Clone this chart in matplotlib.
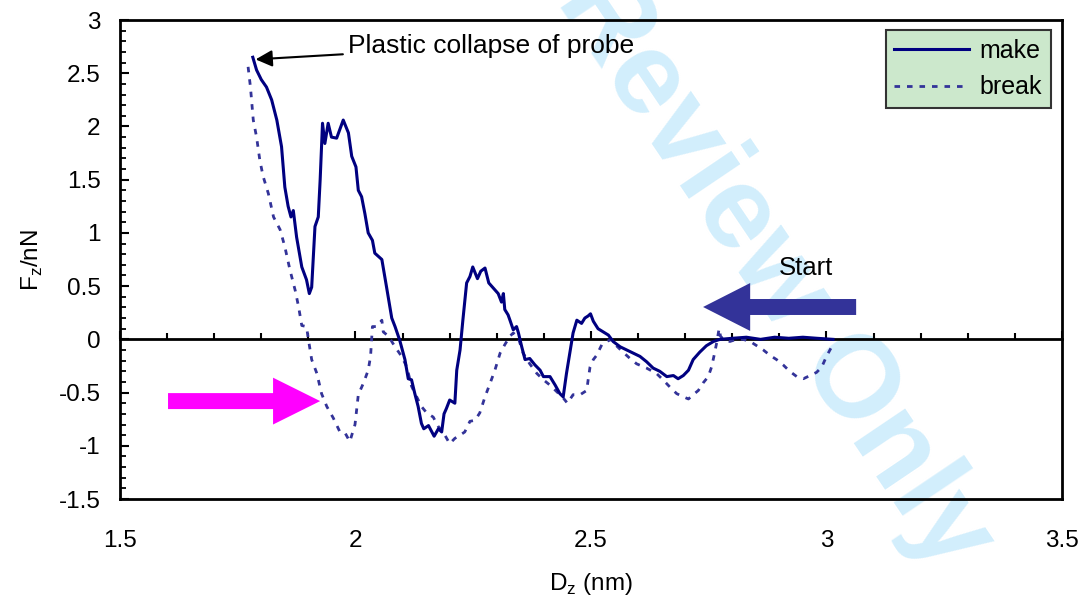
import matplotlib

matplotlib.use("Agg")
import matplotlib.pyplot as plt
from matplotlib.ticker import MultipleLocator, FuncFormatter
from matplotlib.patches import FancyArrow

plt.rcParams["font.family"] = ["Liberation Sans", "DejaVu Sans"]
plt.rcParams["axes.unicode_minus"] = False

# make (approach) curve
make_x = [1.782, 1.790, 1.800, 1.811, 1.822, 1.833, 1.843, 1.850, 1.857, 1.863,
          1.868, 1.875, 1.886, 1.896, 1.902, 1.907, 1.914, 1.921, 1.925, 1.930,
          1.935, 1.942, 1.949, 1.960, 1.974, 1.985, 1.992, 2.001, 2.006, 2.013,
          2.020, 2.027, 2.036, 2.041, 2.056, 2.066, 2.077, 2.084, 2.094, 2.105,
          2.112, 2.119, 2.126, 2.133, 2.140, 2.145, 2.155, 2.167, 2.176, 2.183,
          2.188, 2.193, 2.200, 2.211, 2.215, 2.222, 2.228, 2.236, 2.243, 2.249,
          2.259, 2.266, 2.275, 2.283, 2.293, 2.303, 2.310, 2.314, 2.317, 2.324,
          2.328, 2.335, 2.342, 2.346, 2.353, 2.360, 2.370, 2.381, 2.392, 2.399,
          2.413, 2.424, 2.434, 2.441, 2.448, 2.455, 2.462, 2.470, 2.480, 2.487,
          2.494, 2.499, 2.505, 2.515, 2.526, 2.537, 2.547, 2.562, 2.576, 2.590,
          2.604, 2.618, 2.632, 2.646, 2.661, 2.675, 2.685, 2.696, 2.707, 2.717,
          2.731, 2.745, 2.760, 2.774, 2.800, 2.830, 2.860, 2.890, 2.920, 2.950,
          2.980, 3.014]
make_y = [2.65, 2.53, 2.44, 2.37, 2.25, 2.06, 1.81, 1.43, 1.25, 1.15,
          1.21, 0.96, 0.68, 0.56, 0.43, 0.49, 1.06, 1.15, 1.50, 2.03,
          1.84, 2.03, 1.90, 1.89, 2.06, 1.94, 1.72, 1.62, 1.40, 1.34,
          1.18, 1.00, 0.93, 0.81, 0.75, 0.49, 0.20, 0.12, -0.01, -0.19,
          -0.37, -0.38, -0.51, -0.63, -0.79, -0.84, -0.81, -0.91, -0.84, -0.87,
          -0.70, -0.65, -0.57, -0.60, -0.29, -0.10, 0.18, 0.53, 0.59, 0.68,
          0.57, 0.64, 0.67, 0.53, 0.48, 0.43, 0.35, 0.43, 0.28, 0.23,
          0.18, 0.09, 0.12, 0.06, -0.07, -0.19, -0.18, -0.24, -0.29, -0.35,
          -0.35, -0.43, -0.51, -0.54, -0.32, -0.13, 0.06, 0.18, 0.15, 0.20,
          0.22, 0.24, 0.17, 0.10, 0.07, 0.04, -0.02, -0.07, -0.10, -0.13,
          -0.16, -0.21, -0.27, -0.30, -0.35, -0.34, -0.37, -0.34, -0.29, -0.19,
          -0.12, -0.06, -0.02, 0.00, 0.01, 0.02, 0.00, 0.02, 0.01, 0.02,
          0.01, 0.00]

# break (retract) curve
break_x = [1.772, 1.777, 1.783, 1.790, 1.797, 1.804, 1.815, 1.826, 1.840, 1.850,
           1.861, 1.872, 1.879, 1.886, 1.896, 1.900, 1.907, 1.918, 1.928, 1.939,
           1.953, 1.967, 1.978, 1.988, 1.999, 2.006, 2.017, 2.027, 2.032, 2.036,
           2.045, 2.056, 2.059, 2.070, 2.084, 2.098, 2.109, 2.119, 2.130, 2.140,
           2.151, 2.165, 2.176, 2.186, 2.200, 2.211, 2.222, 2.232, 2.243, 2.254,
           2.264, 2.275, 2.286, 2.296, 2.307, 2.317, 2.328, 2.335, 2.346, 2.356,
           2.370, 2.385, 2.399, 2.413, 2.427, 2.441, 2.450, 2.462, 2.477, 2.491,
           2.494, 2.498, 2.505, 2.512, 2.523, 2.533, 2.544, 2.554, 2.568, 2.583,
           2.597, 2.618, 2.639, 2.653, 2.668, 2.682, 2.696, 2.707, 2.717, 2.728,
           2.738, 2.749, 2.756, 2.761, 2.767, 2.772, 2.775, 2.781, 2.795, 2.809,
           2.823, 2.838, 2.852, 2.866, 2.880, 2.894, 2.908, 2.922, 2.937, 2.951,
           2.965, 2.979, 2.990, 3.000, 3.011]
break_y = [2.56, 2.37, 2.06, 1.90, 1.68, 1.53, 1.37, 1.15, 1.03, 0.87,
           0.65, 0.46, 0.31, 0.13, 0.12, 0.00, -0.19, -0.32, -0.51, -0.63,
           -0.74, -0.87, -0.88, -0.96, -0.80, -0.52, -0.41, -0.29, -0.16, 0.12,
           0.12, 0.18, 0.07, 0.03, -0.07, -0.16, -0.26, -0.44, -0.54, -0.63,
           -0.69, -0.73, -0.82, -0.87, -0.98, -0.93, -0.90, -0.87, -0.77, -0.76,
           -0.69, -0.54, -0.41, -0.29, -0.13, -0.05, 0.03, 0.06, 0.01, -0.13,
           -0.23, -0.32, -0.38, -0.43, -0.49, -0.55, -0.60, -0.52, -0.52, -0.48,
           -0.38, -0.26, -0.19, -0.15, -0.05, -0.02, 0.00, -0.06, -0.12, -0.18,
           -0.23, -0.27, -0.32, -0.38, -0.45, -0.51, -0.54, -0.56, -0.52, -0.48,
           -0.41, -0.35, -0.26, -0.16, -0.03, 0.10, 0.03, 0.00, -0.02, 0.00,
           0.00, -0.02, -0.06, -0.10, -0.15, -0.19, -0.24, -0.30, -0.35, -0.37,
           -0.34, -0.31, -0.26, -0.16, -0.07]

x_limits = (1.5, 3.5)
y_limits = (-1.5, 3.0)

fig = plt.figure(figsize=(10.8, 5.99), dpi=100)
ax = fig.add_axes([0.1111, 0.1669, 0.8722, 0.7997])
ax.patch.set_alpha(0)

# watermark behind everything
fig.text(0.66, 0.70, "For Review Only", fontsize=84, color="#D2EEFC",
         rotation=-56, rotation_mode="anchor", ha="center", va="center",
         fontweight="bold", zorder=-1)

ax.plot(break_x, break_y, color="#333399", lw=2.0, linestyle=(0, (2, 2.5)),
        label="break", zorder=3)
ax.plot(make_x, make_y, color="#000080", lw=2.2, label="make", zorder=4)

ax.set_xlim(*x_limits)
ax.set_ylim(*y_limits)
ax.xaxis.set_major_locator(MultipleLocator(0.5))
ax.yaxis.set_major_locator(MultipleLocator(0.5))
ax.yaxis.set_minor_locator(MultipleLocator(0.1))
fmt = FuncFormatter(lambda v, p: f"{v:g}")
ax.xaxis.set_major_formatter(fmt)
ax.yaxis.set_major_formatter(fmt)
ax.tick_params(axis="x", length=0, labelsize=17.5, pad=22)
ax.tick_params(axis="y", which="major", direction="in", length=6.5, width=1.5,
               labelsize=17.5, pad=14)
ax.tick_params(axis="y", which="minor", direction="in", length=4, width=1.3)
for s in ax.spines.values():
    s.set_linewidth(2)

# horizontal axis crossing at zero
zero = ax.secondary_xaxis((0 - y_limits[0]) / (y_limits[1] - y_limits[0]))
zero.xaxis.set_major_locator(MultipleLocator(0.5))
zero.xaxis.set_minor_locator(MultipleLocator(0.1))
zero.tick_params(which="major", direction="in", length=6, width=1.5, labelbottom=False)
zero.tick_params(which="minor", direction="in", length=4.5, width=1.5)
for s in zero.spines.values():
    s.set_linewidth(2)

ax.set_xlabel("D$_\\mathregular{z}$ (nm)", fontsize=17.5, labelpad=14)
ax.set_ylabel("F$_\\mathregular{z}$/nN", fontsize=17.5, labelpad=10)

ax.annotate("Plastic collapse of probe", xy=(1.788, 2.63), xytext=(1.985, 2.76),
            fontsize=19, va="center", ha="left",
            arrowprops=dict(arrowstyle="-|>", color="black", lw=1.5,
                            mutation_scale=25, shrinkA=2, shrinkB=0))

ax.add_patch(FancyArrow(1.602, -0.58, 0.323, 0, width=0.15, head_width=0.44,
                        head_length=0.10, length_includes_head=True,
                        color="#FF00FF", lw=0, zorder=5))
ax.add_patch(FancyArrow(3.063, 0.304, -0.325, 0, width=0.15, head_width=0.45,
                        head_length=0.10, length_includes_head=True,
                        color="#333399", lw=0, zorder=5))
ax.text(2.957, 0.67, "Start", fontsize=18.5, ha="center", va="center")

leg = ax.legend(handles=ax.lines[::-1], loc="upper right", fontsize=18,
                handlelength=3.0, handletextpad=0.4, borderpad=0.35,
                labelspacing=0.5, fancybox=False, framealpha=1,
                borderaxespad=0, bbox_to_anchor=(0.988, 0.979))
leg.get_frame().set_facecolor("#CCE8CC")
leg.get_frame().set_edgecolor("#333333")
leg.get_frame().set_linewidth(1.5)

fig.savefig("out.png", dpi=100)
